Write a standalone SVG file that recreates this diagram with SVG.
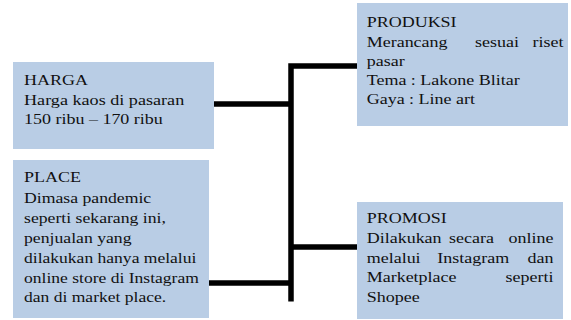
<svg xmlns="http://www.w3.org/2000/svg" width="571" height="320" viewBox="0 0 571 320">
<style>
.box{fill:#b9cde5;}
.t{font-family:"Liberation Serif","Times New Roman",serif;font-size:15px;fill:#111;}
.e{text-anchor:end;}
.c{stroke:#000;stroke-width:5.5;fill:none;stroke-linejoin:miter;stroke-linecap:butt;}
</style>
<rect width="571" height="320" fill="#fff"/>
<g id="connectors">
<path class="c" d="M214,104 H291"/>
<path class="c" d="M291,301.5 V66 H357"/>
<path class="c" d="M291,247 H357"/>
<path class="c" d="M209,283 H291"/>
</g>
<g id="harga">
<rect class="box" x="13" y="62" width="201" height="87"/>
<text class="t" transform="translate(24,84.5) scale(1.2,1)">HARGA</text>
<text class="t" transform="translate(24,104.5) scale(1.21,1)">Harga kaos di pasaran</text>
<text class="t" transform="translate(24,124) scale(1.2,1)">150 ribu – 170 ribu</text>
</g>
<g id="place">
<rect class="box" x="13" y="160" width="196" height="158"/>
<text class="t" transform="translate(24,182) scale(1.2,1)">PLACE</text>
<text class="t" transform="translate(24,202.5) scale(1.18,1)">Dimasa pandemic</text>
<text class="t" transform="translate(24,222.5) scale(1.18,1)">seperti sekarang ini,</text>
<text class="t" transform="translate(24,242.5) scale(1.18,1)">penjualan yang</text>
<text class="t" transform="translate(24,262.5) scale(1.17,1)">dilakukan hanya melalui</text>
<text class="t" transform="translate(24,282.5) scale(1.17,1)">online store di Instagram</text>
<text class="t" transform="translate(24,302) scale(1.17,1)">dan di market place.</text>
</g>
<g id="produksi">
<rect class="box" x="357" y="3" width="211" height="123"/>
<text class="t" transform="translate(366.7,27) scale(1.2,1)">PRODUKSI</text>
<text class="t" transform="translate(366.7,46.5) scale(1.2,1)">Merancang</text>
<text class="t" transform="translate(475,46.5) scale(1.2,1)">sesuai</text>
<text class="t e" transform="translate(563.5,46.5) scale(1.2,1)">riset</text>
<text class="t" transform="translate(366.7,65.5) scale(1.2,1)">pasar</text>
<text class="t" transform="translate(366.7,84.5) scale(1.2,1)">Tema : Lakone Blitar</text>
<text class="t" transform="translate(366.7,103.5) scale(1.2,1)">Gaya : Line art</text>
</g>
<g id="promosi">
<rect class="box" x="357" y="202" width="206" height="117"/>
<text class="t" transform="translate(366.7,223.3) scale(1.2,1)">PROMOSI</text>
<text class="t" transform="translate(366.7,243) scale(1.2,1)">Dilakukan</text>
<text class="t" transform="translate(449,243) scale(1.2,1)">secara</text>
<text class="t e" transform="translate(553.5,243) scale(1.2,1)">online</text>
<text class="t" transform="translate(366.7,262.5) scale(1.2,1)">melalui</text>
<text class="t" transform="translate(437.3,262.5) scale(1.2,1)">Instagram</text>
<text class="t e" transform="translate(553.5,262.5) scale(1.2,1)">dan</text>
<text class="t" transform="translate(366.7,282) scale(1.2,1)">Marketplace</text>
<text class="t e" transform="translate(553.5,282) scale(1.2,1)">seperti</text>
<text class="t" transform="translate(366.7,301.5) scale(1.2,1)">Shopee</text>
</g>
</svg>
